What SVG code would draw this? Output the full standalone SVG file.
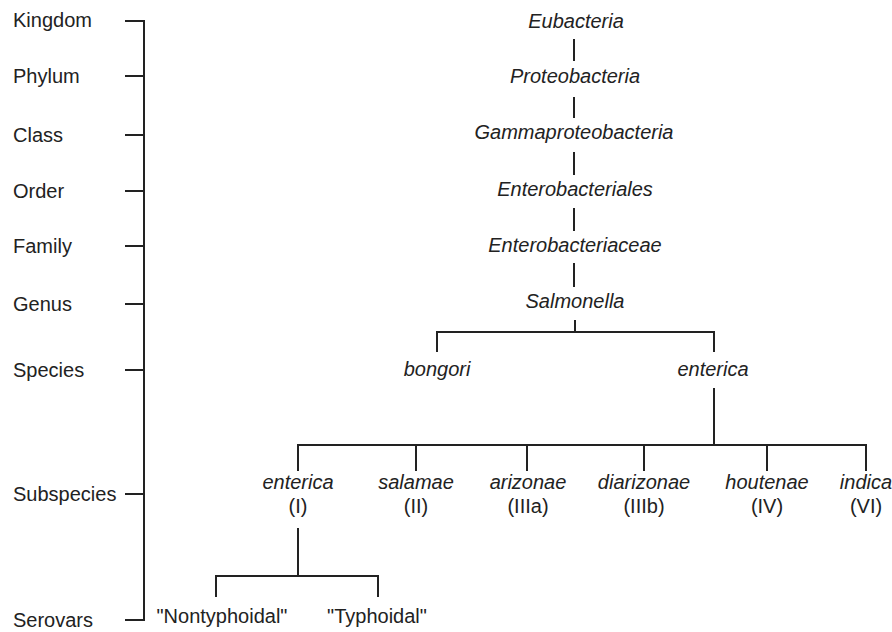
<svg xmlns="http://www.w3.org/2000/svg" width="892" height="632" viewBox="0 0 892 632">
<style>
text{font-family:"Liberation Sans",Arial,sans-serif;font-size:20px;fill:#222}
.r{text-anchor:start}
.c{text-anchor:middle}
.i{font-style:italic}
.ln{stroke:#222;stroke-width:2;fill:none}
</style>
<rect width="892" height="632" fill="#fff"/>
<g id="ranks">
<text class="r" x="13" y="27">Kingdom</text>
<text class="r" x="13" y="83">Phylum</text>
<text class="r" x="13" y="142">Class</text>
<text class="r" x="13" y="198">Order</text>
<text class="r" x="13" y="253">Family</text>
<text class="r" x="13" y="311">Genus</text>
<text class="r" x="13" y="377">Species</text>
<text class="r" x="13" y="501">Subspecies</text>
<text class="r" x="13" y="627">Serovars</text>
</g>
<g id="axis" class="ln">
<path d="M144 20V621"/>
<path d="M125 21H144M125 76H144M125 135H144M125 191H144M125 246H144M125 304H144M125 370H144M125 494H144M125 620H144"/>
</g>
<g id="connectors" class="ln">
<path d="M574 39V61M574 97V118M574 152V175M574 208V231M574 263V287M575 320V332"/>
<path d="M437 352V332H714V352"/>
<path d="M714 388V445"/>
<path d="M298 471V445H866V471M416 445V471M527 445V471M644 445V471M767 445V471"/>
<path d="M298 528V576"/>
<path d="M216 597V576H378V597"/>
</g>
<g id="n-eubacteria"><text class="c i" x="576" y="28">Eubacteria</text></g>
<g id="n-proteobacteria"><text class="c i" x="575" y="83">Proteobacteria</text></g>
<g id="n-gammaproteobacteria"><text class="c i" x="574" y="139">Gammaproteobacteria</text></g>
<g id="n-enterobacteriales"><text class="c i" x="575" y="196">Enterobacteriales</text></g>
<g id="n-enterobacteriaceae"><text class="c i" x="575" y="252">Enterobacteriaceae</text></g>
<g id="n-salmonella"><text class="c i" x="575" y="308">Salmonella</text></g>
<g id="n-bongori"><text class="c i" x="437" y="376">bongori</text></g>
<g id="n-enterica"><text class="c i" x="713" y="376">enterica</text></g>
<g id="n-sub-enterica"><text class="c i" x="298" y="489">enterica</text><text class="c" x="298" y="513">(I)</text></g>
<g id="n-salamae"><text class="c i" x="416" y="489">salamae</text><text class="c" x="416" y="513">(II)</text></g>
<g id="n-arizonae"><text class="c i" x="528" y="489">arizonae</text><text class="c" x="528" y="513">(IIIa)</text></g>
<g id="n-diarizonae"><text class="c i" x="644" y="489">diarizonae</text><text class="c" x="644" y="513">(IIIb)</text></g>
<g id="n-houtenae"><text class="c i" x="767" y="489">houtenae</text><text class="c" x="767" y="513">(IV)</text></g>
<g id="n-indica"><text class="c i" x="866" y="489">indica</text><text class="c" x="866" y="513">(VI)</text></g>
<g id="n-nontyphoidal"><text class="c" x="222" y="623">"Nontyphoidal"</text></g>
<g id="n-typhoidal"><text class="c" x="377" y="623">"Typhoidal"</text></g>
</svg>
